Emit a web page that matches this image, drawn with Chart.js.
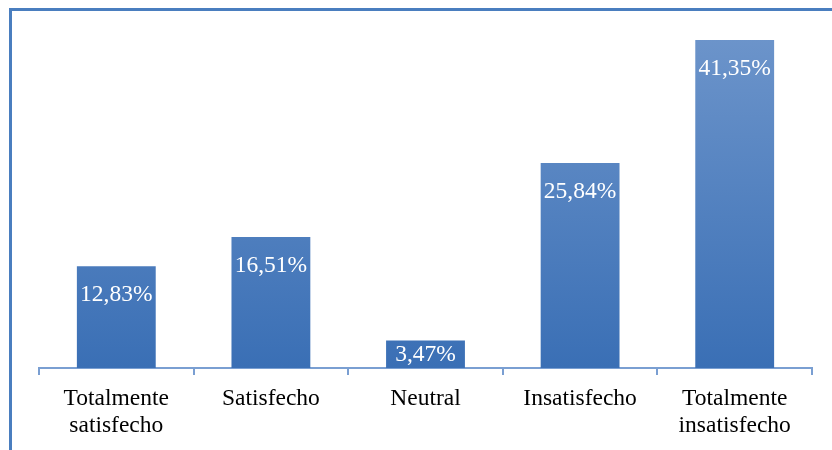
<!DOCTYPE html>
<html><head><meta charset="utf-8">
<script src="https://cdn.jsdelivr.net/npm/chart.js@4"></script>
<style>
html,body{margin:0;padding:0;background:#fff;}
#wrap{position:relative;width:832px;height:450px;}
#frame{position:absolute;left:9px;top:8px;width:830px;height:450px;border-left:3px solid #4a7ebf;border-top:3px solid #4a7ebf;box-sizing:border-box;pointer-events:none;}
canvas{position:absolute;left:0;top:0;}
</style></head>
<body>
<div id="wrap"><canvas id="c" width="832" height="450"></canvas><div id="frame"></div></div>
<script>
const categories = [["Totalmente","satisfecho"],"Satisfecho","Neutral","Insatisfecho",["Totalmente","insatisfecho"]];
const values = [12.83, 16.51, 3.47, 25.84, 41.35];
const valueLabels = ["12,83%","16,51%","3,47%","25,84%","41,35%"];

const labelPlugin = {
  id:'inLabels',
  afterDatasetsDraw(chart){
    const ctx = chart.ctx;
    const meta = chart.getDatasetMeta(0);
    ctx.save();
    ctx.fillStyle = '#ffffff';
    ctx.font = '23.5px "Liberation Serif", "Times New Roman", serif';
    ctx.textAlign = 'center';
    ctx.textBaseline = 'middle';
    meta.data.forEach((bar,i)=>{
      const top = bar.y, base = bar.base;
      const y = Math.min(top + 29, (top+base)/2 + 1);
      ctx.fillText(valueLabels[i], bar.x, y);
    });
    ctx.restore();
  }
};

new Chart(document.getElementById('c'), {
  type:'bar',
  data:{labels:categories, datasets:[{data:values,
    backgroundColor:(c)=>{
      const ch=c.chart; const a=ch.chartArea; if(!a) return '#4a7ebf';
      const g = ch.ctx.createLinearGradient(0, a.top, 0, a.bottom);
      g.addColorStop(0,'#7097cc'); g.addColorStop(1,'#3a6fb5');
      return g;
    },
    barPercentage:0.51, categoryPercentage:1.0, borderWidth:0}]},
  options:{
    responsive:false, animation:false,
    layout:{padding:{left:39,right:20,top:11,bottom:1}},
    plugins:{legend:{display:false},tooltip:{enabled:false}},
    scales:{
      y:{display:false,min:0,max:45},
      x:{
        grid:{drawOnChartArea:false,tickLength:7,color:'#7a9fd2',lineWidth:2,offset:true},
        border:{display:true,color:'#7a9fd2',width:2},
        ticks:{color:'#000',padding:10,font:{family:'"Liberation Serif", "Times New Roman", serif',size:23.5,lineHeight:1.15}}
      }
    }
  },
  plugins:[labelPlugin]
});
</script>
</body></html>
